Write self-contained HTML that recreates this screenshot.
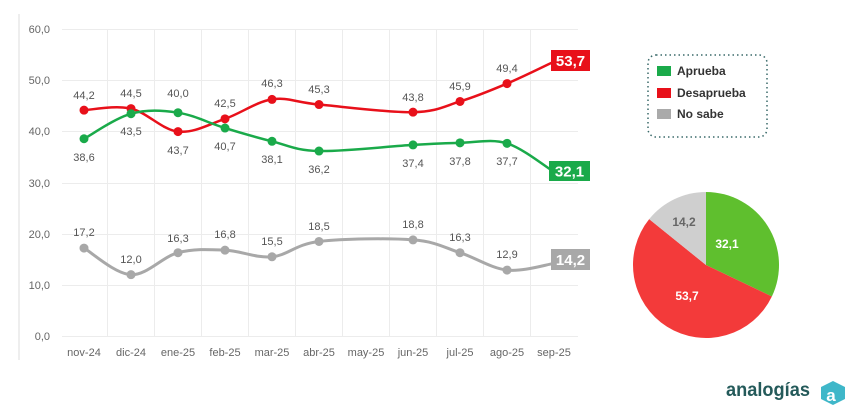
<!DOCTYPE html>
<html><head><meta charset="utf-8"><style>
html,body{margin:0;padding:0;background:#fff;width:862px;height:418px;overflow:hidden}
svg text{font-family:"Liberation Sans",sans-serif}
</style></head><body>
<svg width="862" height="418" viewBox="0 0 862 418" xmlns="http://www.w3.org/2000/svg">
<line x1="19" y1="14" x2="19" y2="360" stroke="#ddd" stroke-width="1"/>
<g stroke="#ececec" stroke-width="1">
<line x1="62" y1="29.5" x2="578" y2="29.5"/><line x1="62" y1="80.5" x2="578" y2="80.5"/>
<line x1="62" y1="131.5" x2="578" y2="131.5"/><line x1="62" y1="183.5" x2="578" y2="183.5"/>
<line x1="62" y1="234.5" x2="578" y2="234.5"/><line x1="62" y1="285.5" x2="578" y2="285.5"/>
<line x1="62" y1="336.5" x2="578" y2="336.5"/>
<line x1="107.5" y1="29" x2="107.5" y2="336"/><line x1="154.5" y1="29" x2="154.5" y2="336"/><line x1="201.5" y1="29" x2="201.5" y2="336"/><line x1="248.5" y1="29" x2="248.5" y2="336"/><line x1="295.5" y1="29" x2="295.5" y2="336"/><line x1="342.5" y1="29" x2="342.5" y2="336"/><line x1="389.5" y1="29" x2="389.5" y2="336"/><line x1="436.5" y1="29" x2="436.5" y2="336"/><line x1="483.5" y1="29" x2="483.5" y2="336"/><line x1="530.5" y1="29" x2="530.5" y2="336"/>
</g>
<g font-size="11" fill="#666" text-anchor="end">
<text x="50" y="33">60,0</text><text x="50" y="84">50,0</text><text x="50" y="135">40,0</text><text x="50" y="187">30,0</text><text x="50" y="238">20,0</text><text x="50" y="289">10,0</text><text x="50" y="340">0,0</text>
</g>
<g font-size="11" fill="#666" text-anchor="middle">
<text x="84" y="356">nov-24</text><text x="131" y="356">dic-24</text><text x="178" y="356">ene-25</text><text x="225" y="356">feb-25</text><text x="272" y="356">mar-25</text><text x="319" y="356">abr-25</text><text x="366" y="356">may-25</text><text x="413" y="356">jun-25</text><text x="460" y="356">jul-25</text><text x="507" y="356">ago-25</text><text x="554" y="356">sep-25</text>
</g>
<path id="pr" fill="none" stroke="#e8101a" stroke-width="2.5"/>
<path id="pg" fill="none" stroke="#1aaa4a" stroke-width="2.5"/>
<path id="py" fill="none" stroke="#a8a8a8" stroke-width="3"/>
<g id="dots"></g>
<g font-size="11" fill="#555" text-anchor="middle">
<text x="84" y="99">44,2</text><text x="131" y="97">44,5</text><text x="178" y="97">40,0</text><text x="225" y="107">42,5</text><text x="272" y="87">46,3</text><text x="319" y="93">45,3</text><text x="413" y="101">43,8</text><text x="460" y="90">45,9</text><text x="507" y="72">49,4</text>
<text x="84" y="161">38,6</text><text x="131" y="135">43,5</text><text x="178" y="154">43,7</text><text x="225" y="150">40,7</text><text x="272" y="163">38,1</text><text x="319" y="173">36,2</text><text x="413" y="167">37,4</text><text x="460" y="165">37,8</text><text x="507" y="165">37,7</text>
<text x="84" y="236">17,2</text><text x="131" y="263">12,0</text><text x="178" y="242">16,3</text><text x="225" y="238">16,8</text><text x="272" y="245">15,5</text><text x="319" y="230">18,5</text><text x="413" y="228">18,8</text><text x="460" y="241">16,3</text><text x="507" y="258">12,9</text>
</g>
<rect x="551" y="50" width="39" height="21" fill="#e8101a"/><text x="570.5" y="66" font-size="15" font-weight="bold" fill="#fff" text-anchor="middle">53,7</text>
<rect x="549" y="161" width="41" height="20" fill="#1aaa4a"/><text x="569.5" y="176.5" font-size="15" font-weight="bold" fill="#fff" text-anchor="middle">32,1</text>
<rect x="551" y="249" width="39" height="21" fill="#a8a8a8"/><text x="570.5" y="265" font-size="15" font-weight="bold" fill="#fff" text-anchor="middle">14,2</text>
<rect x="648" y="55" width="119" height="82" rx="8" fill="none" stroke="#3a6a6a" stroke-width="1.5" stroke-dasharray="1.5 3"/>
<rect x="657" y="66" width="14" height="10" fill="#1aaa4a"/><text x="677" y="75" font-size="12" font-weight="bold" fill="#333">Aprueba</text>
<rect x="657" y="88" width="14" height="10" fill="#e8101a"/><text x="677" y="97" font-size="12" font-weight="bold" fill="#333">Desaprueba</text>
<rect x="657" y="109" width="14" height="10" fill="#aaa"/><text x="677" y="118" font-size="12" font-weight="bold" fill="#333">No sabe</text>
<path id="pie1" fill="#5fbf2e"/><path id="pie2" fill="#f33a3a"/><path id="pie3" fill="#cfcfcf"/>
<text x="727" y="248" font-size="12" font-weight="bold" fill="#fff" text-anchor="middle">32,1</text>
<text x="687" y="300" font-size="12" font-weight="bold" fill="#fff" text-anchor="middle">53,7</text>
<text x="684" y="226" font-size="12" font-weight="bold" fill="#666" text-anchor="middle">14,2</text>
<text x="726" y="396" font-size="19" font-weight="bold" fill="#245a5a" textLength="84" lengthAdjust="spacingAndGlyphs">analogías</text>
<polygon points="833,381 845,387 845,399 833,405 821,399 821,387" fill="#3fb7c9"/>
<text x="831" y="401" font-size="17" font-weight="bold" fill="#fff" text-anchor="middle">a</text>
</svg>
<script>
function Y(v){return 336-5.11*v}
function X(i){return 84+47*i}
function path(d){var p=[];d.forEach(function(v,i){if(v!=null)p.push([X(i),Y(v)])});
var s="M"+p[0][0]+","+p[0][1];for(var i=0;i<p.length-1;i++){var p0=p[i-1]||p[i],p1=p[i],p2=p[i+1],p3=p[i+2]||p2;var t=0.17;
s+=" C"+(p1[0]+(p2[0]-p0[0])*t)+","+(p1[1]+(p2[1]-p0[1])*t)+" "+(p2[0]-(p3[0]-p1[0])*t)+","+(p2[1]-(p3[1]-p1[1])*t)+" "+p2[0]+","+p2[1];}return s;}
var R=[44.2,44.5,40.0,42.5,46.3,45.3,null,43.8,45.9,49.4,53.7],G=[38.6,43.5,43.7,40.7,38.1,36.2,null,37.4,37.8,37.7,32.1],Gy=[17.2,12.0,16.3,16.8,15.5,18.5,null,18.8,16.3,12.9,14.2];
document.getElementById("pr").setAttribute("d",path(R));document.getElementById("pg").setAttribute("d",path(G));document.getElementById("py").setAttribute("d",path(Gy));
var ns="http://www.w3.org/2000/svg",dg=document.getElementById("dots");
[[R,"#e8101a"],[G,"#1aaa4a"],[Gy,"#a8a8a8"]].forEach(function(a){a[0].forEach(function(v,i){if(v==null||i==10)return;var c=document.createElementNS(ns,"circle");c.setAttribute("cx",X(i));c.setAttribute("cy",Y(v));c.setAttribute("r",4.5);c.setAttribute("fill",a[1]);dg.appendChild(c);});});
var cx=706,cy=265,r=73,a0=0;[[32.1,"pie1"],[53.7,"pie2"],[14.2,"pie3"]].forEach(function(s){var a1=a0+s[0]/100*2*Math.PI;
var x0=cx+r*Math.sin(a0),y0=cy-r*Math.cos(a0),x1=cx+r*Math.sin(a1),y1=cy-r*Math.cos(a1);
document.getElementById(s[1]).setAttribute("d","M"+cx+","+cy+" L"+x0+","+y0+" A"+r+","+r+" 0 "+((a1-a0)>Math.PI?1:0)+",1 "+x1+","+y1+" Z");a0=a1;});
</script>
</body></html>
